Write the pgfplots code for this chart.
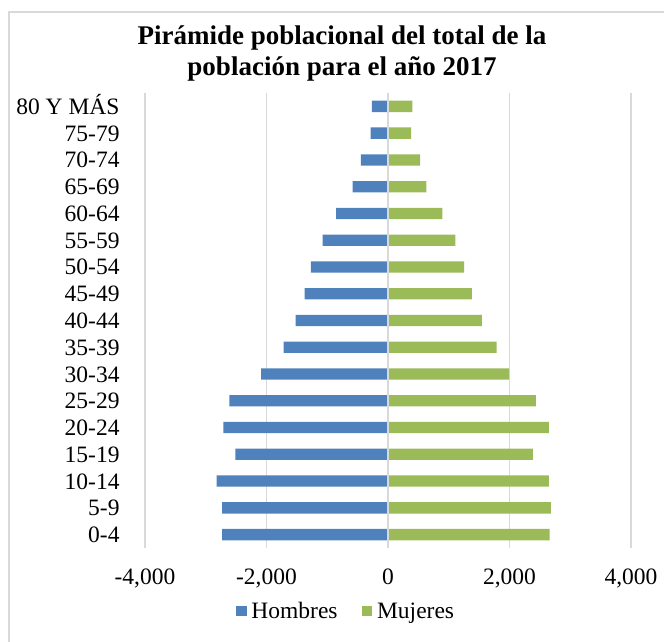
\documentclass[border=0pt]{standalone}
\usepackage{pgfplots}
\pgfplotsset{compat=1.18}
\usepackage{fontspec}
\setmainfont{Liberation Serif}
\definecolor{hombres}{HTML}{4F81BD}
\definecolor{mujeres}{HTML}{9BBB59}
\definecolor{gridgray}{HTML}{D9D9D9}
\newcommand\lbl{\fontsize{23.5}{28}\selectfont}
\begin{document}
\begin{tikzpicture}
\useasboundingbox (0pt,0pt) rectangle (664pt,-642pt);
% chart area border (top and left visible)
\draw[gridgray, line width=1.2pt] (9pt,-642pt) -- (9pt,-12pt) -- (664pt,-12pt);
% title
\node[anchor=base, font=\fontsize{27}{31}\selectfont\bfseries] at (342pt,-45pt) {Pirámide poblacional del total de la};
\node[anchor=base, font=\fontsize{27}{31}\selectfont\bfseries] at (342pt,-76pt) {población para el año 2017};
\begin{axis}[
  at={(145pt,-548pt)}, anchor=south west,
  scale only axis,
  width=486pt, height=455pt,
  xbar, bar width=11.3pt,
  xmin=-4000, xmax=4000,
  ymin=-0.5, ymax=16.5,
  enlargelimits=false,
  xtick={-4000,-2000,0,2000,4000},
  xticklabels={{-4,000},{-2,000},0,{2,000},{4,000}},
  ytick={0,...,16},
  yticklabels={0-4,5-9,10-14,15-19,20-24,25-29,30-34,35-39,40-44,45-49,50-54,55-59,60-64,65-69,70-74,75-79,80 Y MÁS},
  xmajorgrids,
  grid style={line width=1.3pt, draw=gridgray},
  axis line style={draw=none},
  tick style={draw=none},
  tick label style={font=\lbl},
  xticklabel style={anchor=base, yshift=-36pt},
  yticklabel style={anchor=base east, inner sep=0pt, xshift=-21pt, yshift=-8pt},
  legend columns=2,
  legend style={draw=none, fill=none, font=\lbl, at={(0.4136,-0.1385)}, anchor=center,
    /tikz/every even column/.append style={column sep=22pt}},
  legend image code/.code={\fill[#1] (0pt,-5.35pt) rectangle (10.7pt,5.35pt);
    \path (13.5pt,0pt);},
]
\addplot[fill=hombres, draw=none, bar shift=0pt] coordinates {
  (-2731,0) (-2731,1) (-2819,2) (-2511,3) (-2709,4) (-2610,5)
  (-2088,6) (-1720,7) (-1522,8) (-1374,9) (-1269,10) (-1077,11)
  (-852,12) (-582,13) (-445,14) (-286,15) (-264,16)
};
\addlegendentry{Hombres}
\addplot[fill=mujeres, draw=none, bar shift=0pt] coordinates {
  (2659,0) (2681,1) (2649,2) (2385,3) (2649,4) (2434,5)
  (1995,6) (1786,7) (1544,8) (1379,9) (1253,10) (1110,11)
  (896,12) (632,13) (527,14) (379,15) (401,16)
};
\addlegendentry{Mujeres}
% zero gridline stays visible between the two sides
\draw[gridgray, line width=1.3pt] (axis cs:0,-0.5) -- (axis cs:0,16.5);
\end{axis}
\end{tikzpicture}
\end{document}
